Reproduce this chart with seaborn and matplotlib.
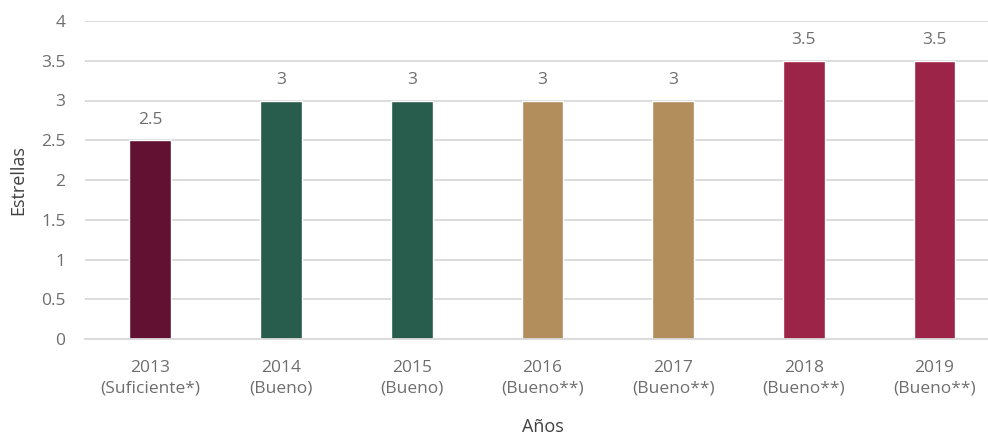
import numpy as np
import pandas as pd
import seaborn as sns
import matplotlib.pyplot as plt
from matplotlib.ticker import FuncFormatter

# data
years = ['2013', '2014', '2015', '2016', '2017', '2018', '2019']
ratings = ['(Suficiente*)', '(Bueno)', '(Bueno)', '(Bueno**)', '(Bueno**)', '(Bueno**)', '(Bueno**)']
stars = [2.5, 3, 3, 3, 3, 3.5, 3.5]
bar_colors = ['#621132', '#285C4D', '#285C4D', '#B38E5D', '#B38E5D', '#9D2449', '#9D2449']

labels = [y + '\n' + r for y, r in zip(years, ratings)]
df = pd.DataFrame({'Año': labels, 'Estrellas': stars})

sns.set_theme(style='white')
plt.rcParams['font.family'] = ['Open Sans', 'DejaVu Sans']
text_color = '#6e6e6e'
grid_color = '#d9d9d9'

fig = plt.figure(figsize=(9.88, 4.34), dpi=100)
ax = fig.add_axes([85 / 988, 95 / 434, 1 - 85 / 988 + 0.012, (339 - 21) / 434])

sns.barplot(ax=ax, data=df, x='Año', y='Estrellas', hue='Año',
            palette=bar_colors, width=0.32, legend=False, saturation=1)

# value labels
for cont in ax.containers:
    ax.bar_label(cont, fmt='%g', padding=9, fontsize=12.5, color=text_color)

ax.set_ylim(0, 4)
ax.set_yticks(np.arange(0, 4.01, 0.5))
ax.yaxis.set_major_formatter(FuncFormatter(lambda v, p: f'{v:g}'))
ax.set_xlim(-0.5, 6.5)

ax.grid(axis='y', color=grid_color, lw=1.3)
ax.set_axisbelow(True)
for s in ['top', 'right', 'left']:
    ax.spines[s].set_visible(False)
ax.spines['bottom'].set_color(grid_color)
ax.spines['bottom'].set_linewidth(1.3)

ax.tick_params(axis='both', length=0, labelsize=12.5, labelcolor=text_color)
ax.tick_params(axis='x', pad=15)
ax.tick_params(axis='y', pad=14)
for t in ax.get_xticklabels():
    t.set_linespacing(1.35)

ax.set_xlabel('Años', fontsize=13, color='#404040', labelpad=15.5)
ax.set_ylabel('Estrellas', fontsize=13, color='#404040', labelpad=10)

plt.savefig('out.png', dpi=100)
